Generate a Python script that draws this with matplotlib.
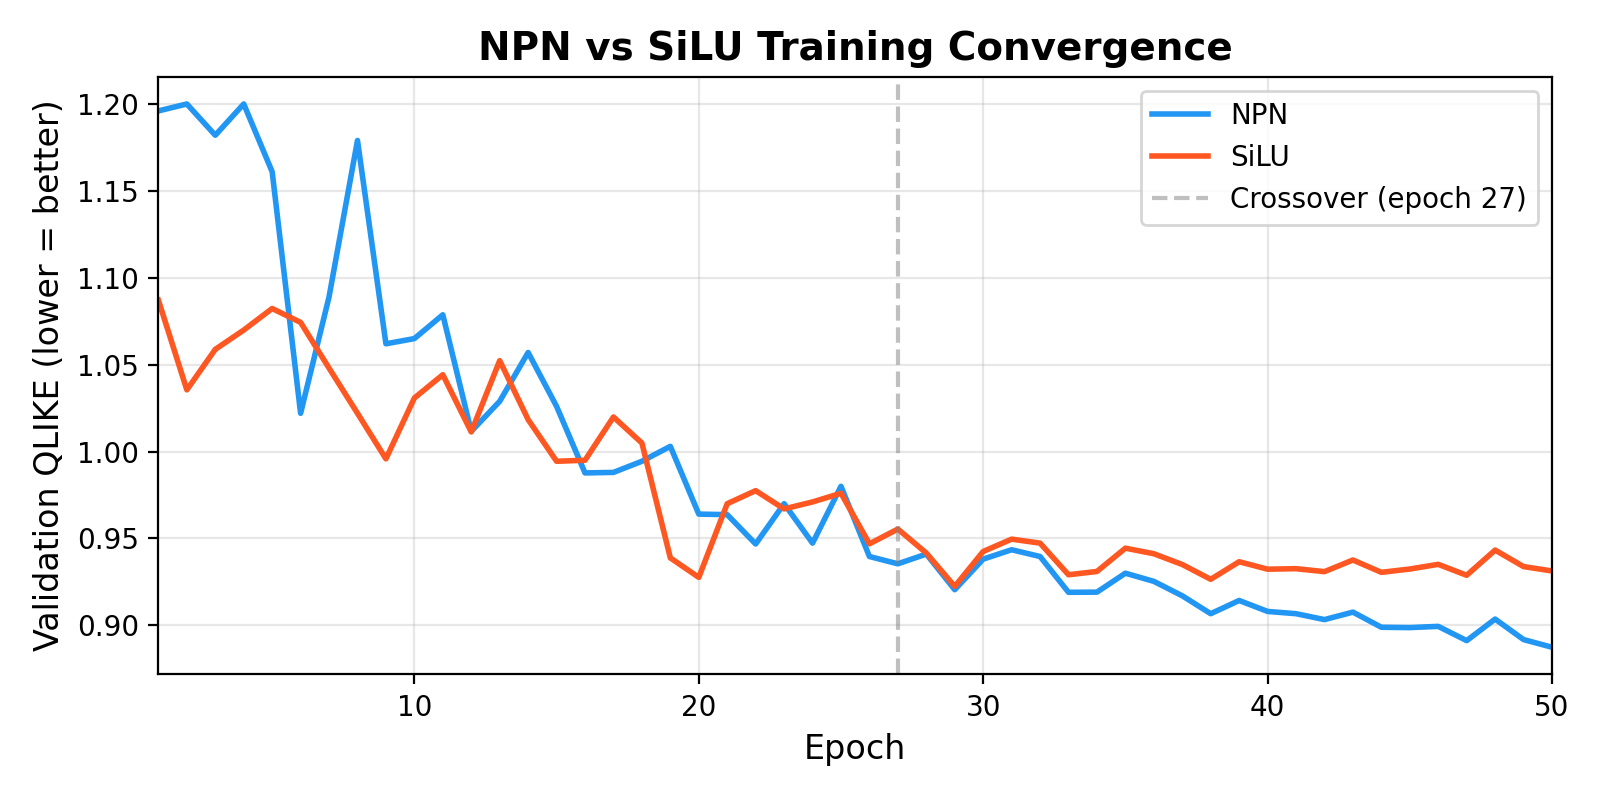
import matplotlib
matplotlib.use("Agg")
import matplotlib.pyplot as plt
import numpy as np

epochs = list(range(1, 51))
npn = [1.196, 1.200, 1.182, 1.200, 1.161, 1.022, 1.089, 1.179, 1.062, 1.065,
       1.0787, 1.0116, 1.0289, 1.057, 1.026, 0.9877, 0.988, 0.9944, 1.003, 0.964,
       0.9637, 0.9468, 0.970, 0.9473, 0.980, 0.9396, 0.9354, 0.941, 0.9205, 0.9381,
       0.9435, 0.9396, 0.919, 0.9191, 0.930, 0.9253, 0.9170, 0.9067, 0.9143, 0.908,
       0.9067, 0.9033, 0.9076, 0.8989, 0.8987, 0.8994, 0.8912, 0.9036, 0.8918, 0.8874]
silu = [1.0871, 1.0355, 1.0588, 1.0699, 1.0823, 1.0743, 1.048, 1.022, 0.9958, 1.0308,
        1.0442, 1.0113, 1.0523, 1.0184, 0.9944, 0.995, 1.0199, 1.0049, 0.9388, 0.9276,
        0.970, 0.9775, 0.967, 0.9710, 0.976, 0.9469, 0.9554, 0.9416, 0.9224, 0.9425,
        0.9496, 0.9473, 0.9291, 0.931, 0.9444, 0.9412, 0.9350, 0.9265, 0.9366, 0.9323,
        0.9326, 0.9309, 0.9376, 0.9305, 0.9324, 0.9351, 0.9288, 0.9433, 0.9338, 0.9313]
crossover = 27

fig, ax = plt.subplots(figsize=(8, 4), dpi=200)
fig.subplots_adjust(left=0.099, right=0.970, top=0.904, bottom=0.157)
ax.plot(epochs, npn, color="#2196F3", lw=2, label="NPN")
ax.plot(epochs, silu, color="#FF5722", lw=2, label="SiLU")
ax.axvline(crossover, color="gray", ls="--", alpha=0.5, lw=1.5,
           label=f"Crossover (epoch {crossover})")
ax.set_xlim(1, 50)
ax.set_xlabel("Epoch", fontsize=12)
ax.set_ylabel("Validation QLIKE (lower = better)", fontsize=12)
ax.set_title("NPN vs SiLU Training Convergence", fontsize=14, fontweight="bold")
ax.grid(True, alpha=0.3)
ax.legend(loc="upper right", fontsize=10)
fig.savefig("out.png", dpi=200)
